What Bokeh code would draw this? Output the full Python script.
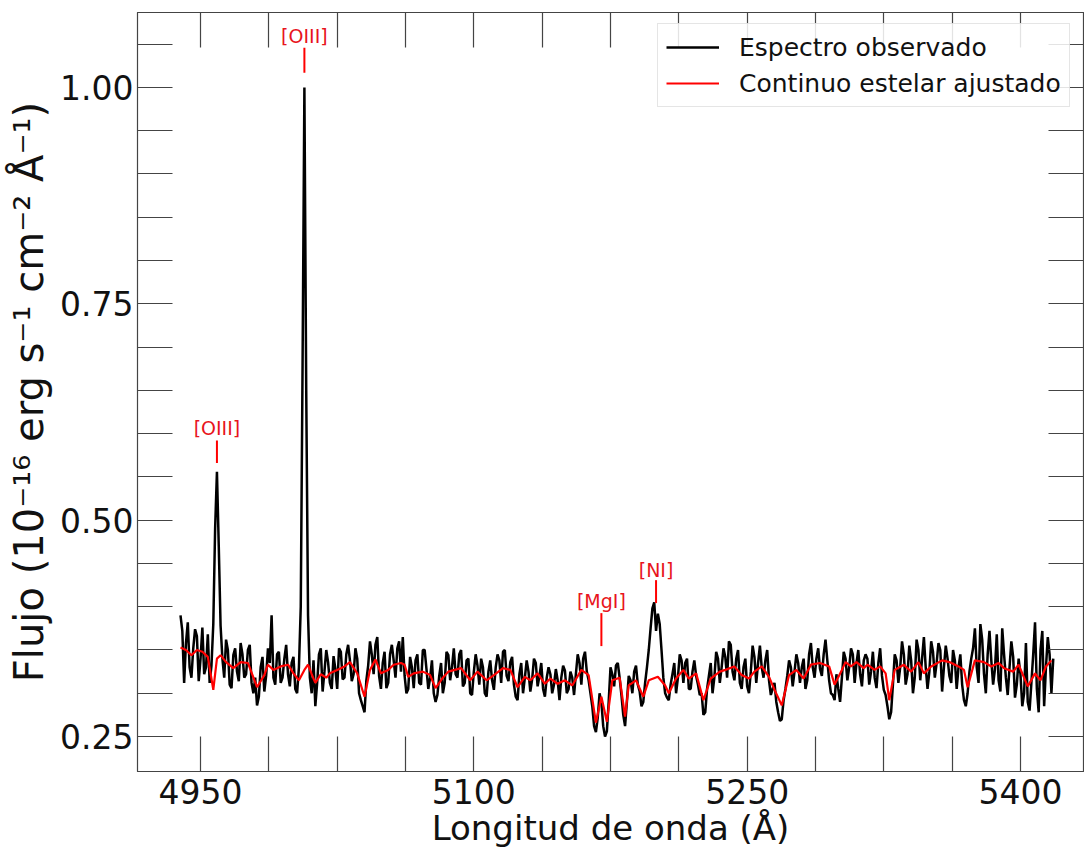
import numpy as np
from bokeh.plotting import figure
from bokeh.models import LinearAxis, FixedTicker, Range1d, Legend, LegendItem, ColumnDataSource, CustomJSTickFormatter
from bokeh.core.properties import value
from bokeh.embed import file_html
from bokeh.resources import INLINE

# ---------------- data ----------------
wl_start = 4939   # first wavelength of the observed spectrum (Angstrom)
wl_step = 1       # sampling step (Angstrom)

observed_flux = [
    # 4939 - 4958
    0.390, 0.372, 0.312, 0.358, 0.382, 0.330, 0.318, 0.352, 0.374, 0.366,
    0.314, 0.340, 0.376, 0.322, 0.330, 0.368, 0.312, 0.332, 0.380, 0.490,
    # 4959 - 4978
    0.556, 0.470, 0.378, 0.340, 0.318, 0.362, 0.350, 0.310, 0.306, 0.344,
    0.352, 0.325, 0.314, 0.358, 0.345, 0.318, 0.322, 0.350, 0.356, 0.312,
    # 4979 - 4998
    0.300, 0.318, 0.286, 0.296, 0.330, 0.342, 0.302, 0.320, 0.352, 0.335,
    0.390, 0.318, 0.310, 0.345, 0.348, 0.312, 0.318, 0.340, 0.356, 0.322,
    # 4999 - 5018
    0.308, 0.335, 0.342, 0.305, 0.300, 0.330, 0.400, 0.680, 1.000, 0.650,
    0.390, 0.318, 0.300, 0.338, 0.285, 0.312, 0.345, 0.352, 0.302, 0.325,
    # 5019 - 5038
    0.350, 0.336, 0.312, 0.305, 0.343, 0.328, 0.305, 0.352, 0.348, 0.316,
    0.318, 0.345, 0.356, 0.338, 0.314, 0.322, 0.352, 0.340, 0.300, 0.292,
    # 5039 - 5058
    0.285, 0.278, 0.315, 0.332, 0.360, 0.345, 0.322, 0.356, 0.365, 0.320,
    0.305, 0.335, 0.348, 0.306, 0.312, 0.345, 0.356, 0.338, 0.318, 0.352,
    # 5059 - 5078
    0.360, 0.325, 0.365, 0.320, 0.300, 0.305, 0.342, 0.330, 0.306, 0.338,
    0.345, 0.312, 0.310, 0.350, 0.350, 0.328, 0.305, 0.318, 0.338, 0.300,
    # 5079 - 5098
    0.290, 0.298, 0.320, 0.335, 0.300, 0.312, 0.348, 0.344, 0.315, 0.330,
    0.352, 0.322, 0.318, 0.345, 0.350, 0.308, 0.312, 0.338, 0.340, 0.300,
    # 5099 - 5118
    0.298, 0.325, 0.345, 0.332, 0.310, 0.340, 0.330, 0.300, 0.296, 0.325,
    0.338, 0.315, 0.304, 0.330, 0.345, 0.338, 0.312, 0.348, 0.350, 0.320,
    # 5119 - 5138
    0.314, 0.336, 0.342, 0.310, 0.296, 0.292, 0.322, 0.335, 0.300, 0.318,
    0.338, 0.325, 0.302, 0.316, 0.340, 0.335, 0.308, 0.320, 0.335, 0.305,
    # 5139 - 5158
    0.296, 0.318, 0.330, 0.322, 0.300, 0.310, 0.328, 0.315, 0.292, 0.318,
    0.332, 0.326, 0.300, 0.305, 0.325, 0.318, 0.298, 0.322, 0.345, 0.335,
    # 5159 - 5178
    0.310, 0.340, 0.348, 0.325, 0.315, 0.300, 0.285, 0.262, 0.255, 0.272,
    0.300, 0.290, 0.262, 0.250, 0.256, 0.290, 0.330, 0.322, 0.308, 0.332,
    # 5179 - 5198
    0.335, 0.318, 0.298, 0.275, 0.262, 0.290, 0.320, 0.315, 0.300, 0.325,
    0.332, 0.310, 0.302, 0.285, 0.290, 0.312, 0.330, 0.350, 0.375, 0.398,
    # 5199 - 5218
    0.405, 0.372, 0.392, 0.380, 0.350, 0.318, 0.300, 0.295, 0.292, 0.310,
    0.322, 0.335, 0.300, 0.318, 0.345, 0.338, 0.312, 0.335, 0.340, 0.305,
    # 5219 - 5238
    0.305, 0.325, 0.338, 0.320, 0.310, 0.298, 0.300, 0.275, 0.278, 0.305,
    0.320, 0.335, 0.300, 0.318, 0.348, 0.340, 0.312, 0.330, 0.352, 0.342,
    # 5239 - 5258
    0.318, 0.360, 0.356, 0.325, 0.315, 0.340, 0.350, 0.312, 0.305, 0.330,
    0.340, 0.308, 0.300, 0.325, 0.355, 0.342, 0.312, 0.335, 0.355, 0.330,
    # 5259 - 5278
    0.318, 0.338, 0.350, 0.315, 0.298, 0.305, 0.312, 0.290, 0.278, 0.268,
    0.270, 0.292, 0.305, 0.320, 0.338, 0.330, 0.308, 0.325, 0.345, 0.335,
    # 5279 - 5298
    0.312, 0.330, 0.340, 0.305, 0.315, 0.345, 0.358, 0.330, 0.318, 0.340,
    0.352, 0.328, 0.320, 0.345, 0.362, 0.338, 0.315, 0.300, 0.298, 0.292,
    # 5299 - 5318
    0.322, 0.305, 0.290, 0.318, 0.348, 0.340, 0.315, 0.330, 0.352, 0.345,
    0.312, 0.335, 0.350, 0.322, 0.308, 0.338, 0.345, 0.340, 0.310, 0.325,
    # 5319 - 5338
    0.348, 0.318, 0.306, 0.335, 0.352, 0.320, 0.304, 0.298, 0.285, 0.270,
    0.278, 0.310, 0.345, 0.338, 0.312, 0.330, 0.360, 0.345, 0.310, 0.322,
    # 5339 - 5358
    0.355, 0.338, 0.300, 0.318, 0.362, 0.350, 0.315, 0.340, 0.365, 0.330,
    0.305, 0.325, 0.360, 0.348, 0.318, 0.335, 0.358, 0.350, 0.302, 0.330,
    # 5359 - 5378
    0.355, 0.340, 0.320, 0.312, 0.350, 0.338, 0.305, 0.330, 0.345, 0.310,
    0.292, 0.285, 0.300, 0.325, 0.340, 0.352, 0.375, 0.330, 0.312, 0.380,
    # 5379 - 5398
    0.362, 0.322, 0.300, 0.345, 0.372, 0.338, 0.310, 0.328, 0.368, 0.315,
    0.302, 0.375, 0.345, 0.318, 0.298, 0.330, 0.360, 0.342, 0.295, 0.310,
    # 5399 - 5418
    0.340, 0.322, 0.285, 0.300, 0.358, 0.290, 0.280, 0.312, 0.345, 0.382,
    0.305, 0.278, 0.350, 0.372, 0.285, 0.330, 0.365, 0.345, 0.300, 0.340,
]

continuum_wl = [
    4939, 4942, 4945, 4948, 4951, 4954, 4957, 4959, 4961, 4964, 4968, 4972, 4976,
    4981, 4985, 4987, 4990, 4994, 4998, 5001, 5004, 5007, 5009, 5011, 5013, 5016,
    5019, 5021, 5025, 5029, 5032, 5036, 5040, 5043, 5046, 5049, 5053, 5056, 5060,
    5062, 5064, 5067, 5072, 5076, 5079, 5083, 5086, 5093, 5098, 5102, 5107, 5111,
    5116, 5120, 5124, 5128, 5131, 5135, 5139, 5142, 5146, 5150, 5154, 5159, 5163,
    5167, 5170, 5173, 5176, 5180, 5183, 5185, 5189, 5193, 5196, 5201, 5205, 5207,
    5211, 5215, 5218, 5222, 5226, 5230, 5235, 5238, 5243, 5247, 5251, 5254, 5258,
    5262, 5265, 5269, 5273, 5277, 5281, 5285, 5290, 5295, 5298, 5302, 5304, 5307,
    5310, 5314, 5316, 5320, 5323, 5326, 5328, 5331, 5336, 5340, 5344, 5347, 5351,
    5357, 5361, 5366, 5369, 5371, 5375, 5380, 5384, 5388, 5391, 5396, 5399, 5404,
    5408, 5411, 5414, 5417,
]
continuum_flux = [
    0.353, 0.350, 0.344, 0.350, 0.348, 0.342, 0.304, 0.340, 0.344, 0.336, 0.329, 0.336, 0.335,
    0.307, 0.321, 0.333, 0.327, 0.331, 0.333, 0.323, 0.315, 0.327, 0.333, 0.322, 0.312, 0.322,
    0.318, 0.323, 0.327, 0.331, 0.336, 0.323, 0.296, 0.327, 0.339, 0.323, 0.327, 0.333, 0.335,
    0.333, 0.319, 0.323, 0.325, 0.321, 0.306, 0.318, 0.325, 0.329, 0.315, 0.325, 0.315, 0.321,
    0.329, 0.327, 0.307, 0.319, 0.315, 0.323, 0.311, 0.317, 0.311, 0.315, 0.309, 0.327, 0.321,
    0.266, 0.296, 0.267, 0.315, 0.318, 0.273, 0.309, 0.315, 0.296, 0.315, 0.319, 0.309, 0.300,
    0.317, 0.327, 0.317, 0.323, 0.292, 0.317, 0.325, 0.327, 0.331, 0.321, 0.317, 0.325, 0.331,
    0.319, 0.304, 0.286, 0.321, 0.327, 0.317, 0.333, 0.335, 0.331, 0.310, 0.327, 0.336, 0.331,
    0.336, 0.329, 0.333, 0.327, 0.331, 0.323, 0.292, 0.327, 0.333, 0.325, 0.336, 0.323, 0.331,
    0.338, 0.336, 0.331, 0.327, 0.307, 0.338, 0.336, 0.331, 0.335, 0.329, 0.325, 0.333, 0.308,
    0.323, 0.315, 0.331, 0.338,
]

line_names = ["[OIII]", "[OIII]", "[MgI]", "[NI]"]
line_wl = [4959, 5007, 5170, 5200]
label_y = [0.607, 1.060, 0.4065, 0.4423]
mark_bottom = [0.566, 1.017, 0.3545, 0.4042]
mark_top = [0.592, 1.046, 0.3926, 0.4307]

x_major_ticks = [4950, 5100, 5250, 5400]
x_minor_ticks = [4912.5, 4987.5, 5025, 5062.5, 5137.5, 5175, 5212.5, 5287.5, 5325, 5362.5, 5437.5]
y_major_ticks = [0.25, 0.50, 0.75, 1.00]
y_minor_ticks = [0.20, 0.30, 0.35, 0.40, 0.45, 0.55, 0.60, 0.65, 0.70, 0.80, 0.85, 0.90, 0.95, 1.05]

# ---------------- figure ----------------
wl = np.arange(wl_start, wl_start + wl_step * len(observed_flux), wl_step)

FONT = "DejaVu Sans"
AX = "#444444"
TXT = "#111111"

p = figure(width=1084, height=852,
           x_range=Range1d(4915.4, 5434.6), y_range=Range1d(0.2096, 1.0866),
           output_backend="svg", toolbar_location=None,
           min_border_left=137, min_border_right=1, min_border_top=12, min_border_bottom=81)
p.grid.visible = False
p.outline_line_color = AX
p.outline_line_width = 1.2
p.background_fill_color = "white"
p.border_fill_color = "white"

def style_axis(ax, ticks, minor, show_labels):
    ax.ticker = FixedTicker(ticks=ticks, minor_ticks=minor)
    ax.axis_line_color = AX
    ax.major_tick_line_color = AX
    ax.minor_tick_line_color = AX
    ax.major_tick_in = 35
    ax.major_tick_out = 0
    ax.minor_tick_in = 35
    ax.minor_tick_out = 0
    ax.major_tick_line_width = 1.2
    ax.minor_tick_line_width = 1.2
    ax.major_label_text_font = FONT
    ax.major_label_text_color = TXT
    if show_labels:
        ax.major_label_text_font_size = "33px"
    else:
        ax.major_label_text_font_size = "0px"
        ax.major_label_standoff = 0
        ax.major_label_text_alpha = 0

style_axis(p.xaxis[0], x_major_ticks, x_minor_ticks, True)
style_axis(p.yaxis[0], y_major_ticks, y_minor_ticks, True)
p.xaxis[0].major_label_standoff = 7
p.yaxis[0].major_label_standoff = 4
p.yaxis[0].formatter = CustomJSTickFormatter(code="return tick.toFixed(2);")

p.xaxis.axis_label = "Longitud de onda (Å)"
p.yaxis.axis_label = "Flujo (10⁻¹⁶ erg s⁻¹ cm⁻² Å⁻¹)"
for ax in (p.xaxis[0], p.yaxis[0]):
    ax.axis_label_text_font = FONT
    ax.axis_label_text_font_style = "normal"
    ax.axis_label_text_color = TXT
p.xaxis[0].axis_label_text_font_size = "34px"
p.xaxis[0].axis_label_standoff = 1
p.yaxis[0].axis_label_text_font_size = "40px"
p.yaxis[0].axis_label_standoff = 5

top_axis = LinearAxis()
style_axis(top_axis, x_major_ticks, x_minor_ticks, False)
p.add_layout(top_axis, "above")
right_axis = LinearAxis()
style_axis(right_axis, y_major_ticks, y_minor_ticks, False)
p.add_layout(right_axis, "right")

r_obs = p.line(wl, observed_flux, line_color="black", line_width=2.5)
r_cont = p.line(continuum_wl, continuum_flux, line_color="#ff0000", line_width=2.2)

src = ColumnDataSource(dict(x=line_wl, y=label_y, name=line_names, y0=mark_bottom, y1=mark_top))
p.segment(x0="x", y0="y0", x1="x", y1="y1", source=src, line_color="#ff0000", line_width=2)
p.text(x="x", y="y", text="name", source=src, text_color="#e8141c",
       text_font=value(FONT), text_font_size="19px",
       text_align="center", text_baseline="middle")

legend = Legend(items=[LegendItem(label="Espectro observado", renderers=[r_obs]),
                       LegendItem(label="Continuo estelar ajustado", renderers=[r_cont])],
                location=(520, 664))
legend.label_text_font = FONT
legend.label_text_font_size = "25px"
legend.label_text_color = TXT
legend.glyph_width = 53
legend.glyph_height = 30
legend.label_height = 30
legend.label_standoff = 20
legend.padding = 8
legend.spacing = 6
legend.border_line_color = "#cccccc"
legend.border_line_width = 1.2
legend.background_fill_alpha = 0.85
p.add_layout(legend)

open("out.html", "w").write(file_html(p, INLINE))
